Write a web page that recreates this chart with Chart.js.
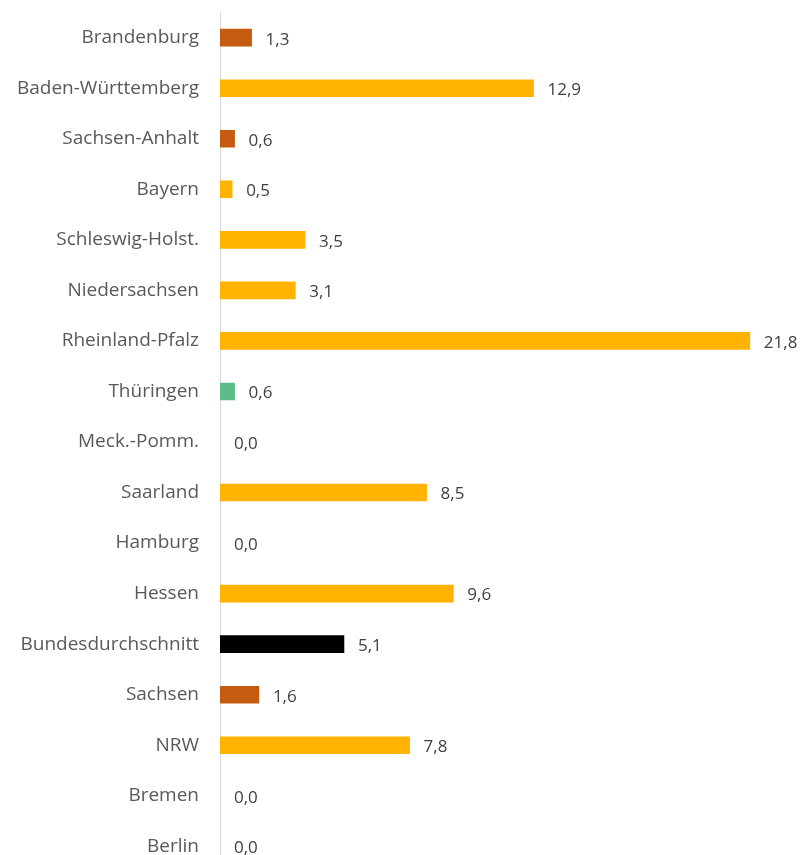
<!DOCTYPE html>
<html>
<head>
<meta charset="utf-8">
<script src="https://cdn.jsdelivr.net/npm/chart.js@4.4.0/dist/chart.umd.min.js"></script>
<style>
html,body{margin:0;padding:0;background:#fff;overflow:hidden;}
#wrap{width:802px;height:855px;position:relative;overflow:hidden;}
#c{position:absolute;left:0;top:-20px;}
</style>
</head>
<body>
<div id="wrap"><canvas id="c" width="802" height="924"></canvas></div>
<script>
const categories = ["Brandenburg","Baden-Württemberg","Sachsen-Anhalt","Bayern","Schleswig-Holst.","Niedersachsen","Rheinland-Pfalz","Thüringen","Meck.-Pomm.","Saarland","Hamburg","Hessen","Bundesdurchschnitt","Sachsen","NRW","Bremen","Berlin"];
const values = [1.3,12.9,0.6,0.5,3.5,3.1,21.8,0.6,0.0,8.5,0.0,9.6,5.1,1.6,7.8,0.0,0.0];
const barColors = ["#C55A11","#FFB300","#C55A11","#FFB300","#FFB300","#FFB300","#FFB300","#5DBB86","#FFB300","#FFB300","#FFB300","#FFB300","#000000","#C55A11","#FFB300","#FFB300","#FFB300"];

const FONT = "'Open Sans'";
const valueLabels = {
  id: 'valueLabels',
  afterDatasetsDraw(chart) {
    const ctx = chart.ctx;
    const meta = chart.getDatasetMeta(0);
    ctx.save();
    ctx.font = "17px " + FONT;
    ctx.fillStyle = "#404040";
    ctx.textAlign = "left";
    ctx.textBaseline = "middle";
    meta.data.forEach((bar, i) => {
      const txt = values[i].toFixed(1).replace('.', ',');
      ctx.fillText(txt, bar.x + 14, bar.y + 2);
    });
    ctx.restore();
  }
};

new Chart(document.getElementById('c'), {
  type: 'bar',
  data: {
    labels: categories,
    datasets: [{
      data: values,
      backgroundColor: (c) => values[c.dataIndex] === 0 ? 'rgba(0,0,0,0)' : barColors[c.dataIndex],
      borderWidth: 0,
      barThickness: 17
    }]
  },
  options: {
    indexAxis: 'y',
    responsive: false,
    animation: false,
    layout: { padding: { top: 12, bottom: 10, left: 0, right: 23 } },
    plugins: { legend: { display: false }, tooltip: { enabled: false } },
    scales: {
      x: { display: false, min: 0, max: 23 },
      y: {
        grid: { display: false, drawTicks: false },
        border: { display: true, color: "#D9D9D9", width: 1 },
        ticks: { color: "#595959", font: { family: "Open Sans", size: 19 }, padding: 21 },
        afterFit(scale) { scale.width = 220; }
      }
    }
  },
  plugins: [valueLabels]
});
</script>
</body>
</html>
